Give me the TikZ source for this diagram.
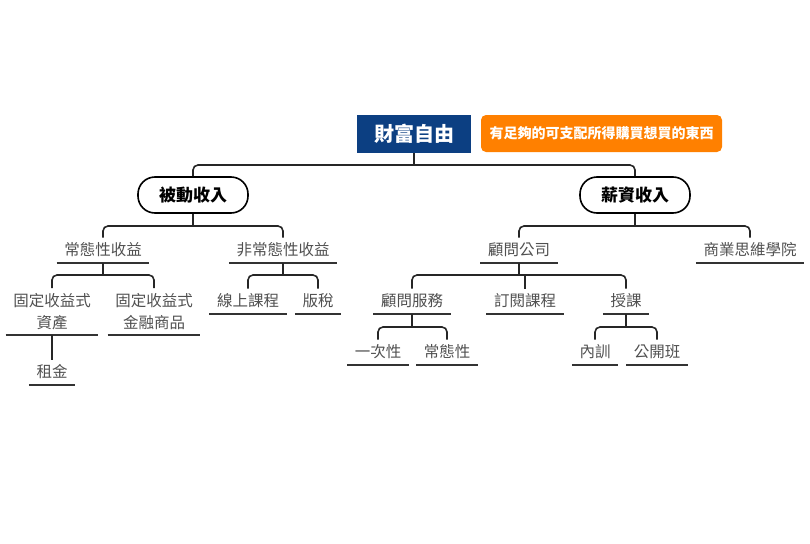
\documentclass[tikz,border=0pt]{standalone}
\usepackage{fontspec}
\setmainfont{Noto Sans CJK TC}
\usepackage{tikz}
\definecolor{rootblue}{RGB}{12,63,130}
\definecolor{noteorange}{RGB}{255,128,0}
\definecolor{lblgray}{RGB}{80,80,80}
\tikzset{
	conn/.style={line width=1.6pt, color=black!85, rounded corners=5pt},
	uline/.style={draw, line width=2pt, color=black!80},
	rootbox/.style={fill=rootblue, text=white, font=\fontsize{20}{24}\selectfont\bfseries, minimum width=114pt, minimum height=38pt, inner sep=0pt},
	notebox/.style={fill=noteorange, text=white, rounded corners=5pt, font=\fontsize{14}{18}\selectfont\bfseries, minimum width=241pt, minimum height=37pt, inner sep=0pt},
	pill/.style={draw, line width=1.6pt, rounded corners=17pt, font=\fontsize{17}{20}\selectfont\bfseries, minimum width=110pt, minimum height=36pt, inner sep=0pt},
	lbl/.style={anchor=south, text=lblgray, font=\fontsize{15.5}{22}\selectfont, inner xsep=7.5pt, inner ysep=5pt, text height=13pt, text depth=2pt,
		append after command={(\tikzlastnode.south west) edge[uline] (\tikzlastnode.south east)}},
	lbltwo/.style={lbl, align=center, text height=, text depth=}
}

\begin{document}
\begin{tikzpicture}[x=1pt, y=-1pt]
		%%%%% START %%%%%
		\useasboundingbox (0, 0) rectangle (810, 543);
		
		\node[rootbox] (root) at (414, 134) {財富自由};
		\node[notebox] (note) at (601.5, 133.5) {有足夠的可支配所得購買想買的東西};
		
		\node[pill] (passive) at (193, 195) {被動收入};
		\node[pill] (salary) at (635, 195) {薪資收入};
		
		\node[lbl] (regular) at (103, 263) {常態性收益};
		\node[lbl] (irregular) at (283, 263) {非常態性收益};
		\node[lbl] (consult) at (519, 263) {顧問公司};
		\node[lbl] (school) at (750, 263) {商業思維學院};
		
		\node[lbltwo] (fixasset) at (52, 335) {固定收益式\\資產};
		\node[lbltwo] (fixfin) at (154, 335) {固定收益式\\金融商品};
		\node[lbl] (rent) at (52, 385) {租金};
		
		\node[lbl] (online) at (248, 314) {線上課程};
		\node[lbl] (royalty) at (318, 314) {版稅};
		
		\node[lbl] (service) at (412, 314) {顧問服務};
		\node[lbl] (subscr) at (525, 314) {訂閱課程};
		\node[lbl] (teach) at (626, 314) {授課};
		
		\node[lbl] (once) at (378, 365) {一次性};
		\node[lbl] (recur) at (447, 365) {常態性};
		\node[lbl] (inhouse) at (595, 365) {內訓};
		\node[lbl] (public) at (657, 365) {公開班};
		
		% buses
		\coordinate (busroot) at (414, 165);
		\coordinate (buspassive) at (193, 226);
		\coordinate (bussalary) at (635, 226);
		\coordinate (busregular) at (103, 275);
		\coordinate (busirregular) at (283, 275);
		\coordinate (busconsult) at (519, 275);
		\coordinate (busservice) at (412, 327);
		\coordinate (busteach) at (626, 327);
		
		\draw[conn] (root) -- (busroot);
		\draw[conn] (passive.north) |- (busroot) -| (salary.north);
		
		\draw[conn] (passive) -- (buspassive);
		\draw[conn] (regular.north) |- (buspassive) -| (irregular.north);
		\draw[conn] (salary) -- (bussalary);
		\draw[conn] (consult.north) |- (bussalary) -| (school.north);
		
		\draw[conn] (regular.south) -- (busregular);
		\draw[conn] (fixasset.north) |- (busregular) -| (fixfin.north);
		\draw[conn] (fixasset.south) -- (rent.north);
		
		\draw[conn] (irregular.south) -- (busirregular);
		\draw[conn] (online.north) |- (busirregular) -| (royalty.north);
		
		\draw[conn] (consult.south) -- (busconsult);
		\draw[conn] (service.north) |- (busconsult) -| (teach.north);
		\draw[conn] (subscr.north) -- (subscr.north |- busconsult);
		
		\draw[conn] (service.south) -- (busservice);
		\draw[conn] (once.north) |- (busservice) -| (recur.north);
		\draw[conn] (teach.south) -- (busteach);
		\draw[conn] (inhouse.north) |- (busteach) -| (public.north);
		
		%%%%% END %%%%%
\end{tikzpicture}
\end{document}
